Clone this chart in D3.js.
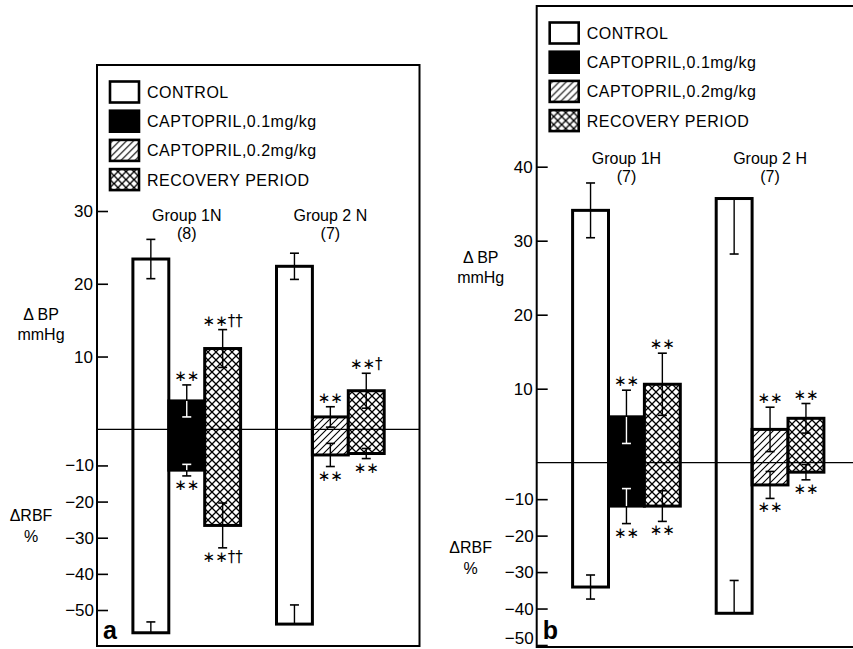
<!DOCTYPE html>
<html>
<head>
<meta charset="utf-8">
<script src="https://cdn.jsdelivr.net/npm/d3@7"></script>
<style>
  body { margin: 0; background: #fff; }
  svg { display: block; font-family: "Liberation Sans", Arial, sans-serif; }
</style>
</head>
<body>
<svg id="chart" width="853" height="649"></svg>
<script>
/*
 * Captopril figure: change in blood pressure (up) and renal blood flow (down)
 * panel a = normotensive groups, panel b = hypertensive groups
 */

// legend entries, index used as the bar "kind"
var treatments = ["CONTROL", "CAPTOPRIL,0.1mg/kg", "CAPTOPRIL,0.2mg/kg", "RECOVERY PERIOD"];

// ---- panel a ----
var groupsA = ["Group 1N", "Group 2 N"];
var groupNA = ["(8)", "(7)"];
var kindA = [0, 1, 3, 0, 2, 3];
var bpA = [23.4, 3.9, 11.1, 22.4, 1.7, 5.3];
var bpSeA = [2.7, 2.2, 2.6, 1.8, 1.4, 2.4];
var bpSideA = [2, 2, 2, 2, 2, 2];          // 2 = both halves drawn, 1 = inner half only
var rbfA = [-56.3, -11.3, -26.6, -53.9, -7.1, -6.7];
var rbfSeA = [3.0, 1.6, 6.2, 5.3, 3.2, 1.4];
var rbfSideA = [1, 2, 2, 1, 2, 2];
var bpStarA = ["", "∗∗", "∗∗††", "", "∗∗", "∗∗†"];
var rbfStarA = ["", "∗∗", "∗∗††", "", "∗∗", "∗∗"];
var bpTicksA = [10, 20, 30];
var rbfTicksA = [-10, -20, -30, -40, -50];

// ---- panel b ----
var groupsB = ["Group 1H", "Group 2 H"];
var groupNB = ["(7)", "(7)"];
var kindB = [0, 1, 3, 0, 2, 3];
var bpB = [34.1, 6.2, 10.6, 35.7, 4.5, 6.0];
var bpSeB = [3.7, 3.6, 4.2, 7.5, 3.0, 2.0];
var bpSideB = [2, 2, 2, 1, 2, 2];
var rbfB = [-34.1, -11.9, -11.9, -41.3, -6.1, -2.6];
var rbfSeB = [3.3, 4.8, 4.2, 9.0, 3.7, 2.1];
var rbfSideB = [2, 2, 2, 1, 2, 2];
var bpStarB = ["", "∗∗", "∗∗", "", "∗∗", "∗∗"];
var rbfStarB = ["", "∗∗", "∗∗", "", "∗∗", "∗∗"];
var bpTicksB = [10, 20, 30, 40];
var rbfTicksB = [-10, -20, -30, -40, -50];

// bar slots: three bars per group, one empty slot between groups
var slots = [0, 1, 2, 4, 5, 6];

var svg = d3.select("#chart");
var defs = svg.append("defs");

// single hatch for 0.2 mg/kg
defs.append("pattern")
    .attr("id", "hatch")
    .attr("patternUnits", "userSpaceOnUse")
    .attr("width", 7).attr("height", 7)
  .append("path")
    .attr("d", "M-1,1 L1,-1 M0,7 L7,0 M6,8 L8,6")
    .attr("stroke", "#000").attr("stroke-width", 1.1);

// cross hatch for recovery period
var cross = defs.append("pattern")
    .attr("id", "cross")
    .attr("patternUnits", "userSpaceOnUse")
    .attr("width", 8).attr("height", 8);
cross.append("rect").attr("width", 8).attr("height", 8).attr("fill", "#fff");
cross.append("path")
    .attr("d", "M0,0 L8,8 M8,0 L0,8")
    .attr("stroke", "#000").attr("stroke-width", 1.3);

var fills = ["#fff", "#000", "url(#hatch)", "url(#cross)"];

function drawPanel(p) {
  var g = svg.append("g");

  var x = d3.scaleLinear().domain([-1, 8]).range([p.left, p.left + 9 * 35.9]);
  var yBP = d3.scaleLinear().domain([0, p.bpTop]).range([p.zero, p.bpTopY]);
  var yRBF = d3.scaleLinear().domain([0, -50]).range([p.zero, p.rbfBotY]);
  var bw = x(1) - x(0);

  // frame
  g.append("rect")
      .attr("x", p.left).attr("y", p.top)
      .attr("width", p.right - p.left).attr("height", p.bottom - p.top)
      .attr("fill", "none").attr("stroke", "#000").attr("stroke-width", 2);

  // left axis ticks, drawn inward
  var bpAxis = d3.axisRight(yBP).tickValues(p.bpTicks).tickSize(11).tickFormat("");
  var rbfAxis = d3.axisRight(yRBF).tickValues(p.rbfTicks).tickSize(11).tickFormat("");
  [bpAxis, rbfAxis].forEach(function(ax) {
    var a = g.append("g").attr("transform", "translate(" + p.left + ",0)").call(ax);
    a.select(".domain").remove();
    a.selectAll("line").attr("stroke-width", 1.6);
  });

  g.selectAll(".bpLab").data(p.bpTicks).enter().append("text")
      .attr("x", p.left - 4).attr("y", function(d) { return yBP(d) + 6; })
      .attr("text-anchor", "end").attr("font-size", 17)
      .text(function(d) { return d; });
  // the lowest label sits on the page edge, keep it inside
  g.selectAll(".rbfLab").data(p.rbfTicks).enter().append("text")
      .attr("x", p.left - 3).attr("y", function(d) { return Math.min(yRBF(d) + 6, 644); })
      .attr("text-anchor", "end").attr("font-size", 17)
      .text(function(d) { return "\u2212" + Math.abs(d); });

  // axis titles
  g.append("text").attr("x", p.left - 56).attr("y", p.bpTitleY)
      .attr("text-anchor", "middle").attr("font-size", 16).text("Δ BP");
  g.append("text").attr("x", p.left - 56).attr("y", p.bpTitleY + 20)
      .attr("text-anchor", "middle").attr("font-size", 16).text("mmHg");
  g.append("text").attr("x", p.left - 66).attr("y", p.rbfTitleY)
      .attr("text-anchor", "middle").attr("font-size", 16).text("ΔRBF");
  g.append("text").attr("x", p.left - 66).attr("y", p.rbfTitleY + 21)
      .attr("text-anchor", "middle").attr("font-size", 16).text("%");

  // legend
  var leg = g.selectAll(".leg").data(treatments).enter().append("g")
      .attr("transform", function(d, i) {
        return "translate(" + (p.left + 13) + "," + (p.top + 27 + i * 29.2) + ")";
      });
  leg.append("rect")
      .attr("x", 0).attr("y", -10.5).attr("width", 29).attr("height", 21)
      .attr("fill", function(d, i) { return fills[i]; })
      .attr("stroke", "#000").attr("stroke-width", 2.6);
  leg.append("text")
      .attr("x", 37).attr("y", 6).attr("font-size", 16)
      .attr("letter-spacing", 0.5)
      .text(function(d) { return d; });

  // group labels
  p.groups.forEach(function(name, i) {
    var cx = x(slots[i * 3] + 1.5);
    g.append("text").attr("x", cx).attr("y", p.groupY)
        .attr("text-anchor", "middle").attr("font-size", 16).text(name);
    g.append("text").attr("x", cx).attr("y", p.groupY + 18)
        .attr("text-anchor", "middle").attr("font-size", 16).text(p.groupN[i]);
  });

  // bars: one rect from BP mean down to RBF mean
  p.bp.forEach(function(v, i) {
    g.append("rect")
        .attr("x", x(slots[i])).attr("width", bw)
        .attr("y", yBP(v)).attr("height", yRBF(p.rbf[i]) - yBP(v))
        .attr("fill", fills[p.kind[i]])
        .attr("stroke", "#000").attr("stroke-width", 3);
  });

  // zero line
  g.append("line")
      .attr("x1", p.left).attr("x2", p.right)
      .attr("y1", p.zero).attr("y2", p.zero)
      .attr("stroke", "#000").attr("stroke-width", 1.3);

  // error bars: outer half black, inner half white inside the black bar
  function errHalf(cx, y0, y1, colour) {
    g.append("line").attr("x1", cx).attr("x2", cx).attr("y1", y0).attr("y2", y1)
        .attr("stroke", colour).attr("stroke-width", 1.4);
    g.append("line").attr("x1", cx - 4.5).attr("x2", cx + 4.5).attr("y1", y1).attr("y2", y1)
        .attr("stroke", colour).attr("stroke-width", 1.6);
  }

  p.bp.forEach(function(v, i) {
    var cx = x(slots[i]) + bw / 2;
    var inner = p.kind[i] === 1 ? "#fff" : "#000";
    var se = p.bpSe[i], r = p.rbf[i], rse = p.rbfSe[i];

    errHalf(cx, yBP(v), yBP(v - se), inner);
    if (p.bpSide[i] === 2) errHalf(cx, yBP(v), yBP(v + se), "#000");
    errHalf(cx, yRBF(r), yRBF(r + rse), inner);
    if (p.rbfSide[i] === 2) errHalf(cx, yRBF(r), yRBF(r - rse), "#000");

    var topY = p.bpSide[i] === 2 ? yBP(v + se) : yBP(v);
    var botY = p.rbfSide[i] === 2 ? yRBF(r - rse) : yRBF(r);
    if (p.bpStar[i]) {
      g.append("text").attr("x", cx).attr("y", topY - 4)
          .attr("text-anchor", "middle")
          .attr("font-family", "DejaVu Sans").attr("font-size", 15)
          .text(p.bpStar[i]);
    }
    if (p.rbfStar[i]) {
      g.append("text").attr("x", cx).attr("y", botY + 14)
          .attr("text-anchor", "middle")
          .attr("font-family", "DejaVu Sans").attr("font-size", 15)
          .text(p.rbfStar[i]);
    }
  });

  // panel letter
  g.append("text").attr("x", p.left + 6).attr("y", 639)
      .attr("font-size", 25).attr("font-weight", "bold").text(p.letter);
}

drawPanel({
  letter: "a", left: 97, right: 419.5, top: 65, bottom: 646,
  zero: 429.3, bpTop: 30, bpTopY: 211, rbfBotY: 610,
  bpTitleY: 320, rbfTitleY: 521, groupY: 221,
  groups: groupsA, groupN: groupNA, kind: kindA,
  bp: bpA, bpSe: bpSeA, bpSide: bpSideA,
  rbf: rbfA, rbfSe: rbfSeA, rbfSide: rbfSideA,
  bpStar: bpStarA, rbfStar: rbfStarA,
  bpTicks: bpTicksA, rbfTicks: rbfTicksA
});

drawPanel({
  letter: "b", left: 536.7, right: 870, top: 6, bottom: 647,
  zero: 462.7, bpTop: 40, bpTopY: 166.7, rbfBotY: 645,
  bpTitleY: 263, rbfTitleY: 553, groupY: 164,
  groups: groupsB, groupN: groupNB, kind: kindB,
  bp: bpB, bpSe: bpSeB, bpSide: bpSideB,
  rbf: rbfB, rbfSe: rbfSeB, rbfSide: rbfSideB,
  bpStar: bpStarB, rbfStar: rbfStarB,
  bpTicks: bpTicksB, rbfTicks: rbfTicksB
});
</script>
</body>
</html>
